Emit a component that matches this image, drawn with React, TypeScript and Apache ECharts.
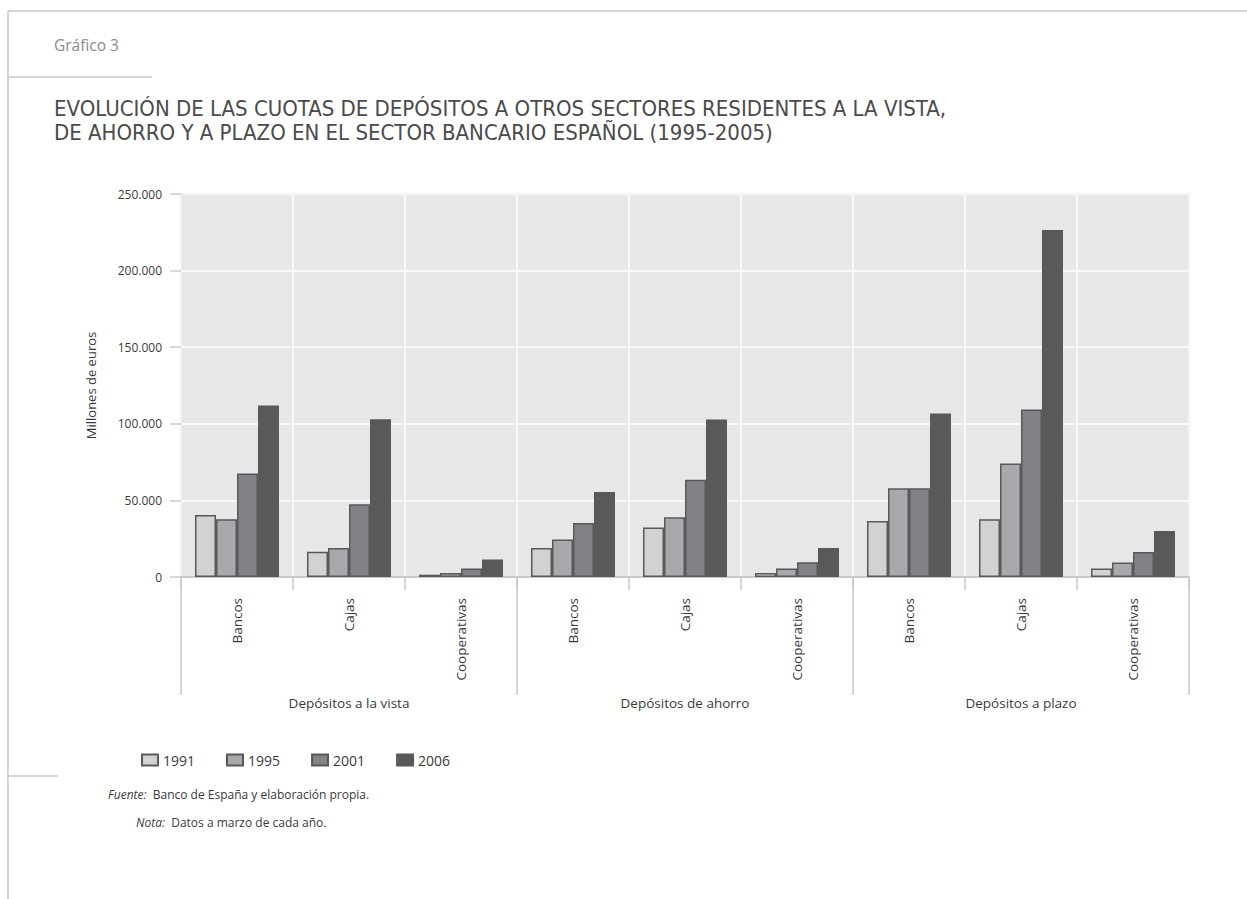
import React, { useEffect, useRef } from "react";
import * as echarts from "echarts";

// Sector categories along the x axis (three deposit types × three kinds of entity)
const entities = [
  "Bancos", "Cajas", "Cooperativas",
  "Bancos", "Cajas", "Cooperativas",
  "Bancos", "Cajas", "Cooperativas",
];
const depositTypes = ["Depósitos a la vista", "Depósitos de ahorro", "Depósitos a plazo"];

// Millones de euros, one value per entity/deposit type
const years = ["1991", "1995", "2001", "2006"];
const v1991 = [40500, 16500, 1500, 19000, 32300, 2600, 36600, 37700, 5500];
const v1995 = [37700, 19000, 2600, 24400, 39000, 5500, 58000, 74100, 9400];
const v2001 = [67500, 47500, 5500, 35300, 63400, 9600, 58000, 109400, 16300];
const v2006 = [112000, 103000, 11400, 55500, 102800, 19000, 106700, 226500, 30000];
const yTicks = [0, 50000, 100000, 150000, 200000, 250000];

const seriesValues = [v1991, v1995, v2001, v2006];
const barColors = ["#d1d2d4", "#a7a9ac", "#808285", "#58595b"];

const FONT = "'Open Sans', 'Noto Sans', sans-serif";
const TEXT = "#3a3a3a";
const FRAME = "#c8c9cb";

const fmt = (v: number) => String(v).replace(/\B(?=(\d{3})+(?!\d))/g, ".");

export default function App() {
  const ref = useRef<HTMLDivElement>(null);

  useEffect(() => {
    if (!ref.current) return;
    const chart = echarts.init(ref.current, null, { renderer: "svg" });

    const option: any = {
      animation: false,
      backgroundColor: "#ffffff",
      textStyle: { fontFamily: FONT },
      grid: {
        left: 181,
        top: 194,
        width: 1008,
        height: 383,
        show: true,
        backgroundColor: "#e6e7e8",
        borderColor: "#d1d3d4",
        borderWidth: 2,
        containLabel: false,
      },
      legend: {
        left: 136,
        top: 748,
        itemWidth: 16,
        itemHeight: 11,
        itemGap: 31,
        icon: "rect",
        textStyle: { fontFamily: FONT, fontSize: 14, color: TEXT },
        data: years,
      },
      xAxis: [
        {
          type: "category",
          data: entities,
          position: "bottom",
          axisLine: { show: true, lineStyle: { color: "#c8c9cb", width: 2 } },
          axisTick: { show: true, length: 13, lineStyle: { color: "#c8c9cb", width: 1.5 } },
          axisLabel: {
            rotate: 90,
            margin: 21,
            fontFamily: FONT,
            fontSize: 13.5,
            color: TEXT,
          },
          splitLine: { show: true, lineStyle: { color: "#ffffff", width: 1.5 } },
        },
        {
          type: "category",
          data: depositTypes,
          position: "bottom",
          axisLine: { show: false },
          axisTick: { show: true, length: 118, lineStyle: { color: "#c8c9cb", width: 1.5 } },
          axisLabel: {
            margin: 119,
            fontFamily: FONT,
            fontSize: 13.5,
            color: TEXT,
          },
          splitLine: { show: false },
        },
      ],
      yAxis: {
        type: "value",
        min: yTicks[0],
        max: yTicks[yTicks.length - 1],
        interval: yTicks[1] - yTicks[0],
        name: "Millones de euros",
        nameLocation: "middle",
        nameGap: 84,
        nameTextStyle: { fontFamily: FONT, fontSize: 13, color: TEXT },
        axisLine: { show: false },
        axisTick: { show: true, length: 11, lineStyle: { color: "#c8c9cb", width: 1.5 } },
        axisLabel: {
          margin: 19,
          fontFamily: FONT,
          fontSize: 12,
          color: TEXT,
          formatter: (v: number) => fmt(v),
        },
        splitLine: { show: true, lineStyle: { color: "#ffffff", width: 1.5 } },
      },
      series: years.map((y, i) => ({
        name: y,
        type: "bar",
        xAxisIndex: 0,
        data: seriesValues[i],
        barGap: "0%",
        barCategoryGap: "25%",
        itemStyle: {
          color: barColors[i],
          borderColor: "#58595b",
          borderWidth: 1.5,
        },
      })),
      graphic: [
        // page frame
        { type: "line", shape: { x1: 8, y1: 11, x2: 1247, y2: 11 }, style: { stroke: FRAME, lineWidth: 1.5 } },
        { type: "line", shape: { x1: 8, y1: 11, x2: 8, y2: 899 }, style: { stroke: FRAME, lineWidth: 1.5 } },
        { type: "line", shape: { x1: 8, y1: 77, x2: 152, y2: 77 }, style: { stroke: FRAME, lineWidth: 1.5 } },
        { type: "line", shape: { x1: 8, y1: 776, x2: 58, y2: 776 }, style: { stroke: FRAME, lineWidth: 1.5 } },
        {
          type: "text",
          left: 54,
          top: 37,
          style: { text: "Gráfico 3", fontFamily: FONT, fontSize: 15.5, fill: "#8c8c8c" },
        },
        {
          type: "text",
          left: 54,
          top: 96,
          style: {
            text:
              "EVOLUCIÓN DE LAS CUOTAS DE DEPÓSITOS A OTROS SECTORES RESIDENTES A LA VISTA,\nDE AHORRO Y A PLAZO EN EL SECTOR BANCARIO ESPAÑOL (1995-2005)",
            fontFamily: "'DejaVu Sans Condensed', 'Liberation Sans Narrow', sans-serif",
            fontSize: 22,
            lineHeight: 24,
            fill: "#4a4a4a",
          },
        },
        {
          type: "text",
          left: 108,
          top: 788,
          style: {
            text: "{i|Fuente:}  Banco de España y elaboración propia.",
            fontFamily: FONT,
            fontSize: 12,
            fill: TEXT,
            rich: { i: { fontStyle: "italic", fontFamily: FONT, fontSize: 12, fill: TEXT } },
          },
        },
        {
          type: "text",
          left: 136,
          top: 816,
          style: {
            text: "{i|Nota:}  Datos a marzo de cada año.",
            fontFamily: FONT,
            fontSize: 12,
            fill: TEXT,
            rich: { i: { fontStyle: "italic", fontFamily: FONT, fontSize: 12, fill: TEXT } },
          },
        },
      ],
    };

    chart.setOption(option);
    return () => chart.dispose();
  }, []);

  return (
    <div
      ref={ref}
      style={{ position: "fixed", left: 0, top: 0, width: 1247, height: 899, background: "#fff" }}
    />
  );
}
